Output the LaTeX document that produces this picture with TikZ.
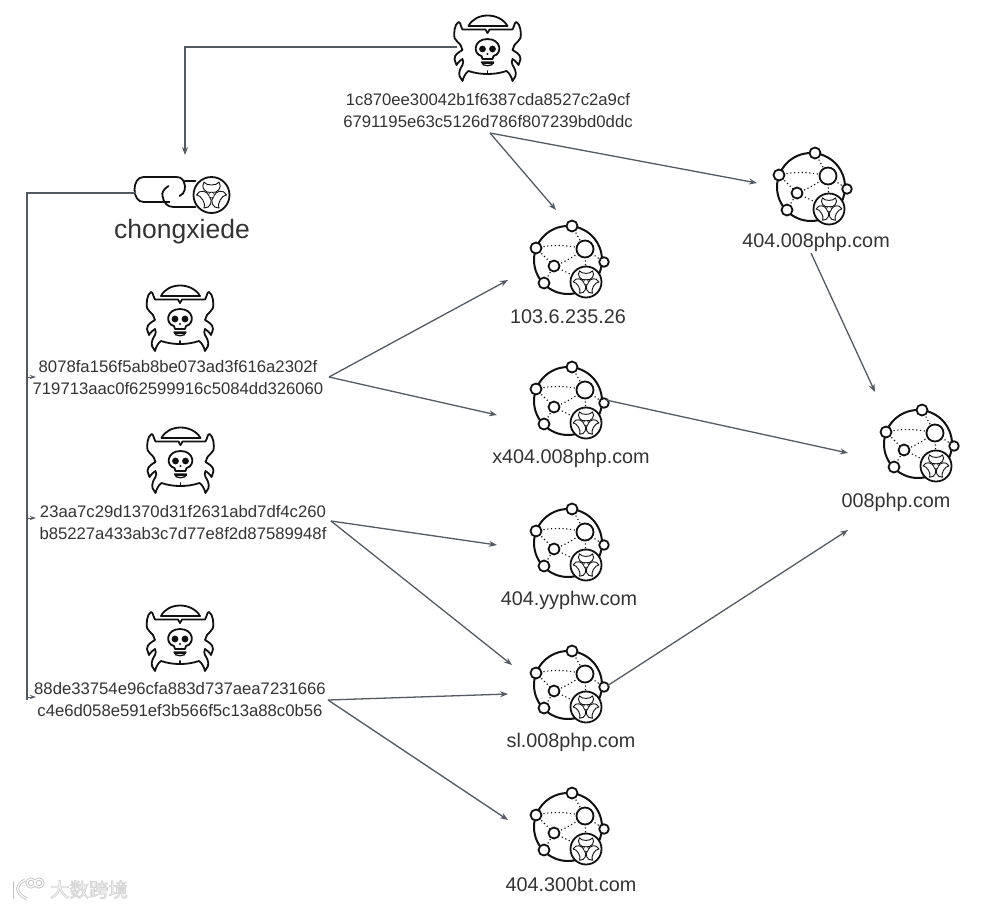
\documentclass[tikz,border=0pt]{standalone}
\usepackage{fontspec}
\setmainfont{Liberation Sans}
\newfontfamily\cjkface{Noto Sans CJK SC}
\usetikzlibrary{arrows.meta}
\definecolor{ink}{HTML}{111111}
\definecolor{wire}{HTML}{555a60}
\definecolor{txt}{HTML}{333333}
\tikzset{
  x=1pt,y=-1pt,
  link/.style={draw=wire,line width=1.3pt,-{Stealth[length=8pt,width=6pt]}},
  stub/.style={draw=wire,line width=0.9pt,-{Stealth[length=6pt,width=4pt]}},
  hashtext/.style={font=\fontsize{16.7}{22}\selectfont,text=txt,align=center,inner sep=0pt},
  hostlabel/.style={font=\fontsize{19.8}{22}\selectfont,text=txt,inner sep=0pt},
  spot/.style={circle,minimum size=70pt,inner sep=0pt},
  icon/.style={draw=ink,line width=1.8pt,line join=round,line cap=round},
  dots/.style={draw=ink,line width=1.1pt,dash pattern=on 1.2pt off 2.6pt},
  bioline/.style={draw=ink,line width=0.9pt,line join=round},
  biohazard/.pic={
    \path[icon,fill=white] (0,0) circle (1);
    \foreach \a in {90,210,330}{
      \begin{scope}[rotate=\a]
        \draw[bioline] (0.72,0.42) .. controls (0.42,0.62) and (0.08,0.34) .. (0.14,0)
          .. controls (0.08,-0.34) and (0.42,-0.62) .. (0.72,-0.42)
          .. controls (0.50,-0.30) and (0.50,0.30) .. cycle;
      \end{scope}
    }
    \fill[white] (0,0) circle (0.16);
    \draw[bioline,line width=0.6pt] (0,0) circle (0.16);
  },
  spidericon/.pic={
    \draw[icon] (-19,-24) .. controls (-12,-38) and (12,-38) .. (20,-24) -- cycle;
    \foreach \s in {-1,1}{
      \begin{scope}[xscale=\s]
        \draw[icon] (0,-17) -- (2,-20.5) -- (25,-20.5) .. controls (27,-24) and (27,-28) .. (29,-28)
          .. controls (33,-26) and (34,-16) .. (33,-12) .. controls (32,-9) and (29,-8) .. (27,-5)
          -- (25,0) .. controls (28,2) and (33,4) .. (33,9) .. controls (33,12) and (31,13) .. (31,15)
          .. controls (29,12) and (27,10) .. (25,9) .. controls (24,11) and (24,13) .. (25,15)
          .. controls (27,18) and (29,22) .. (28,26) -- (25,31)
          .. controls (24,27) and (22,23) .. (19,21) .. controls (13,23) and (7,24) .. (0,24);
      \end{scope}
    }
    \draw[icon] (0,24) -- (0,21);
    \draw[icon] (-6,6) .. controls (-15,4) and (-14,-11) .. (0,-11)
      .. controls (14,-11) and (15,4) .. (6,6) -- (5,9) -- (-5,9) -- cycle;
    \fill[ink] (-5,-1) circle (3.4) (5,-1) circle (3.4);
    \fill[ink] (0,4) circle (1.1);
    \draw[icon,line width=1.3pt] (-6,12) -- (6,12) .. controls (6,17) and (-6,17) .. (-6,12) -- cycle;
    \fill[ink] (-6,12) rectangle (6,14);
  },
  hosticon/.pic={
    \draw[icon,line width=2pt] (0,0) circle (34);
    \draw[dots] (-32,-12) .. controls (-18,-15) and (-5,-16) .. (17,-11);
    \draw[dots] (-14,6) .. controls (-5,3) and (5,-3) .. (17,-11);
    \draw[dots] (4,-34) -- (17,-11) -- (36,2);
    \draw[dots] (-32,-12) -- (-14,6) -- (18,22);
    \draw[dots] (-24,23) -- (-14,6);
    \draw[dots] (17,-11) -- (18,22);
    \foreach \p/\r in {(4,-34)/5.5,(-32,-12)/5.5,(-24,23)/5.5,(36,2)/4.8,(17,-11)/8.5,(-14,6)/5.5}{
      \draw[icon,fill=white] \p circle (\r);
    }
    \pic[scale=15.5] at (18,22) {biohazard};
  },
  chainicon/.pic={
    \draw[icon] (-32,1) .. controls (-26,-1) and (-26,-9) .. (-27,-11) .. controls (-28,-15) and (-30,-18) .. (-35,-18)
      -- (-68,-18) .. controls (-80,-18) and (-80,7) .. (-68,7) -- (-42,7);
    \draw[icon] (-43,-9) .. controls (-48,-6) and (-50,-2) .. (-49,1) .. controls (-48,8) and (-44,12) .. (-38,12) -- (-16,12);
    \draw[icon] (-27,-14) -- (-16,-14);
    \pic[scale=18] at (0,0) {biohazard};
  },
}
\begin{document}
\begin{tikzpicture}
\useasboundingbox (0,0) rectangle (987,908);

% spiders
\node[spot] (s0) at (487.5,50) {};
\node[spot] (s1) at (180,320) {};
\node[spot] (s2) at (180.5,462) {};
\node[spot] (s3) at (180,640) {};
\foreach \n in {s0,s1,s2,s3} \pic at (\n) {spidericon};

% hashes
\node[hashtext] (t0) at (488,110.5) {1c870ee30042b1f6387cda8527c2a9cf\\6791195e63c5126d786f807239bd0ddc};
\node[hashtext] (t1) at (178,377.5) {8078fa156f5ab8be073ad3f616a2302f\\719713aac0f62599916c5084dd326060};
\node[hashtext] (t2) at (183,522.5) {23aa7c29d1370d31f2631abd7df4c260\\b85227a433ab3c7d77e8f2d87589948f};
\node[hashtext] (t3) at (180,700) {88de33754e96cfa883d737aea7231666\\c4e6d058e591ef3b566f5c13a88c0b56};

% hosts
\node[spot] (h1) at (568,260) {};
\node[spot] (h2) at (568,401) {};
\node[spot] (h3) at (568,543) {};
\node[spot] (h4) at (568,685) {};
\node[spot] (h5) at (568,827) {};
\node[spot] (h6) at (811,187) {};
\node[spot] (h7) at (918,444) {};
\foreach \n in {h1,h2,h3,h4,h5,h6,h7} \pic at (\n) {hosticon};
\node[hostlabel] (l1) at (568,317) {103.6.235.26};
\node[hostlabel] (l2) at (571,458) {x404.008php.com};
\node[hostlabel] (l3) at (569,600) {404.yyphw.com};
\node[hostlabel] (l4) at (571,742) {sl.008php.com};
\node[hostlabel] (l5) at (571,884) {404.300bt.com};
\node[hostlabel] (l6) at (816,242.5) {404.008php.com};
\node[hostlabel] (l7) at (896,502.5) {008php.com};

% chain
\node[circle,minimum size=36pt,inner sep=0pt] (c0) at (211.5,195) {};
\pic at (c0) {chainicon};
\node[font=\fontsize{26.5}{28}\selectfont,text=txt,inner sep=0pt] (cl) at (182,232) {chongxiede};

% junction points
\coordinate (j0) at (490,133);
\coordinate (j1) at (329,377);
\coordinate (j2) at (331,521);
\coordinate (j3) at (328,700);
\coordinate (bus) at (27,193);
\coordinate (bus1) at (27,377);
\coordinate (bus2) at (27,518);
\coordinate (bus3) at (27,697);

% connectors
\draw[link] ([shift={(-31,-3)}]s0.center) -| (185,155);
\draw[link] (j0) -- ([shift={(-12,-50)}]h1.center);
\draw[link] (j0) -- ([shift={(-54,-4)}]h6.center);
\draw[link] (j1) -- ([shift={(-60,20)}]h1.center);
\draw[link] (j1) -- ([shift={(-71,14)}]h2.center);
\draw[link] (j2) -- ([shift={(-71,2)}]h3.center);
\draw[link] (j2) -- ([shift={(-56,-20)}]h4.center);
\draw[link] (j3) -- ([shift={(-60,9)}]h4.center);
\draw[link] (j3) -- ([shift={(-60,-7)}]h5.center);
\draw[link] ([shift={(38,-1)}]h2.center) -- ([shift={(-70,9)}]h7.center);
\draw[link] ([shift={(39,1)}]h4.center) -- ([shift={(-70,86)}]h7.center);
\draw[link] ([shift={(0,66)}]h6.center) -- ([shift={(-43,-52)}]h7.center);
\draw[draw=wire,line width=1.4pt] ([shift={(-76,-2)}]c0.center) -- (bus) -- (27,700);
\draw[stub] (bus1) -- (36,377);
\draw[stub] (bus2) -- (36,518);
\draw[stub] (bus3) -- (36,697);

% watermark
\node[font=\cjkface\fontsize{19.5}{20}\selectfont,inner sep=0pt] (wm) at (89,889.5)
  {\special{pdf:code q 2 Tr 0.8 w 0.84 G 1 g}大数跨境\special{pdf:code Q}};
\foreach \c/\w in {black!24/3,white/1.3}{
  \draw[draw=\c,line width=\w pt] (12,881) -- (12,899);
  \draw[draw=\c,line width=\w pt] (25,880) .. controls (15,885) and (15,893) .. (27,899);
  \draw[draw=\c,line width=\w pt] (31,883) circle (4) (39,883) circle (4);
}
\end{tikzpicture}
\end{document}
